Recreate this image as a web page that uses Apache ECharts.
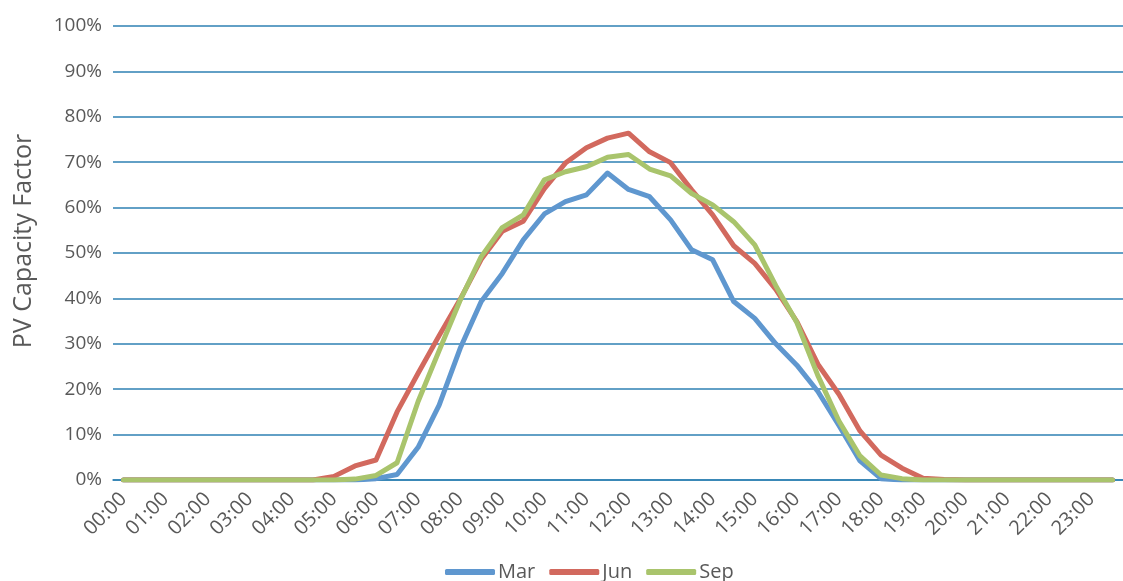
<!DOCTYPE html>
<html>
<head>
<meta charset="utf-8">
<script src="https://cdn.jsdelivr.net/npm/echarts@6/dist/echarts.min.js"></script>
<style>
html,body{margin:0;padding:0;background:#fff;}
#chart{width:1123px;height:581px;}
</style>
</head>
<body>
<div id="chart"></div>
<script>
// Half-hourly time categories
const categories = [
  '00:00','00:30','01:00','01:30','02:00','02:30','03:00','03:30',
  '04:00','04:30','05:00','05:30','06:00','06:30','07:00','07:30',
  '08:00','08:30','09:00','09:30','10:00','10:30','11:00','11:30',
  '12:00','12:30','13:00','13:30','14:00','14:30','15:00','15:30',
  '16:00','16:30','17:00','17:30','18:00','18:30','19:00','19:30',
  '20:00','20:30','21:00','21:30','22:00','22:30','23:00','23:30'
];
// PV capacity factor, %
const marValues = [
  0,0,0,0,0,0,0,0, 0,0,0,0,0.3,1.2,7.2,16.5,
  29,39.3,45.5,52.9,58.6,61.3,62.8,67.6, 64,62.4,57.3,50.7,48.5,39.3,35.6,30,
  25.3,19.5,12,4.2,0.3,0,0,0, 0,0,0,0,0,0,0,0
];
const junValues = [
  0,0,0,0,0,0,0,0, 0,0,0.8,3.1,4.4,15,23.5,31.8,
  39.8,48.6,54.8,57,64.2,69.8,73.2,75.3, 76.4,72.3,69.9,63.9,58.4,51.6,47.7,42,
  34.9,25.5,18.9,10.8,5.5,2.6,0.4,0.1, 0,0,0,0,0,0,0,0
];
const sepValues = [
  0,0,0,0,0,0,0,0, 0,0,0,0.2,1,3.8,17.3,28.5,
  39.6,49.2,55.6,58.4,66.1,67.9,69,71.1, 71.7,68.5,67,63.1,60.6,56.9,51.8,42.8,
  34.7,23,13,5.3,1.1,0.3,0,0, 0,0,0,0,0,0,0,0
];
const seriesNames = ['Mar','Jun','Sep'];
const yTicks = [0,10,20,30,40,50,60,70,80,90,100];

const colors = ['#5F97CF','#D2695E','#A9C46C'];
const FONT = '"Open Sans", "DejaVu Sans", sans-serif';
const TEXT = '#595959';

const chart = echarts.init(document.getElementById('chart'), null, {renderer:'canvas'});
const mk = (name, data, color) => ({
  name, type:'line', data, symbol:'none', smooth:false,
  lineStyle:{color, width:5, cap:'round', join:'round'},
  itemStyle:{color},
  emphasis:{disabled:true}
});
chart.setOption({
  animation:false,
  color: colors,
  grid:{left:113, right:-5, top:26, bottom:101, containLabel:false},
  legend:{
    data: seriesNames,
    bottom:-6, left:440,
    icon:'roundRect', itemWidth:50, itemHeight:6, itemGap:14,
    textStyle:{color:TEXT, fontSize:20, fontFamily:FONT, padding:[0,0,0,-2]}
  },
  xAxis:{
    type:'category', data:categories, boundaryGap:true,
    axisLine:{show:true, lineStyle:{color:'#2E80B3', width:1.5}},
    axisTick:{show:false},
    axisLabel:{interval:1, rotate:45, color:TEXT, fontSize:20, fontFamily:FONT, margin:16},
    splitLine:{show:false}
  },
  yAxis:{
    type:'value', min:yTicks[0], max:yTicks[yTicks.length-1], interval:10,
    name:'PV Capacity Factor', nameLocation:'middle', nameGap:77, nameRotate:90,
    nameTextStyle:{color:TEXT, fontSize:25, fontFamily:FONT, padding:[0,0,0,24]},
    axisLine:{show:false}, axisTick:{show:false},
    axisLabel:{formatter:'{value}%', color:TEXT, fontSize:19, fontFamily:FONT, margin:11},
    splitLine:{show:true, lineStyle:{color:'#2E80B3', width:1.5}}
  },
  series:[
    mk(seriesNames[0], marValues, colors[0]),
    mk(seriesNames[1], junValues, colors[1]),
    mk(seriesNames[2], sepValues, colors[2])
  ]
});
</script>
</body>
</html>
